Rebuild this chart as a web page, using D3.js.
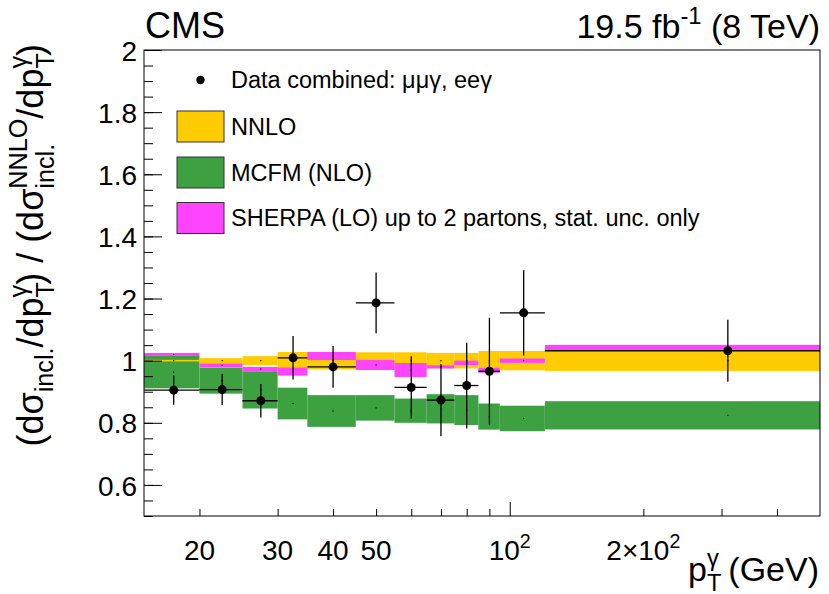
<!DOCTYPE html>
<html>
<head>
<meta charset="utf-8">
<script src="https://cdn.jsdelivr.net/npm/d3@7/dist/d3.min.js"></script>
<style>
  body { margin: 0; background: #fff; }
  text { font-family: "Liberation Sans", Arial, Helvetica, sans-serif; fill: #000; }
</style>
</head>
<body>
<div id="chart"></div>
<script>
// bin edges of photon pT (GeV)
var binEdges = [15, 20, 25, 30, 35, 45, 55, 65, 75, 85, 95, 120, 500];

// data / NNLO ratio and its error
var dataVal = [0.905, 0.907, 0.871, 1.009, 0.980, 1.186, 0.914, 0.873, 0.920, 0.966, 1.154, 1.032];
var dataErr = [0.047, 0.050, 0.054, 0.070, 0.067, 0.098, 0.100, 0.116, 0.138, 0.172, 0.137, 0.100];

// NNLO / NNLO band (centered at 1)
var nnloUnc = [0.0025, 0.008, 0.0145, 0.028, 0.028, 0.027, 0.027, 0.025, 0.025, 0.031, 0.031, 0.033];

// MCFM (NLO) / NNLO
var mcfmVal = [0.963, 0.936, 0.906, 0.862, 0.838, 0.848, 0.839, 0.845, 0.841, 0.820, 0.814, 0.824];
var mcfmUnc = [0.052, 0.042, 0.060, 0.051, 0.051, 0.041, 0.039, 0.047, 0.048, 0.042, 0.041, 0.0455];

// SHERPA (LO) / NNLO
var sherpaVal = [1.020, 0.985, 0.973, 0.965, 1.015, 0.986, 0.970, 0.980, 0.993, 0.969, 1.000, 1.042];
var sherpaUnc = [0.005, 0.0065, 0.007, 0.013, 0.013, 0.016, 0.0225, 0.005, 0.007, 0.008, 0.007, 0.009];

// axis ticks
var yMajorTicks = [0.6, 0.8, 1.0, 1.2, 1.4, 1.6, 1.8, 2.0];
var yMinorTicks = d3.range(0.5, 2.001, 0.05);
var xMinorTicks = [20, 30, 40, 50, 60, 70, 80, 90, 200, 300, 400];
var xMajorTicks = [100];
var xLabelVals = [20, 30, 40, 50, 100, 200];
var xLabelText = [["20"], ["30"], ["40"], ["50"], ["10", "2"], ["2\u00d710", "2"]];

var legendItems = ["Data combined: \u03bc\u03bc\u03b3, ee\u03b3", "NNLO", "MCFM (NLO)",
                   "SHERPA (LO) up to 2 partons, stat. unc. only"];

var colNNLO = "#ffcc00", colMCFM = "#3da142", colSherpa = "#ff44ff";

var W = 829, H = 594;
var frame = {left: 144, right: 820, top: 50, bottom: 516};

var svg = d3.select("#chart").append("svg")
  .attr("width", W)
  .attr("height", H);
svg.append("rect").attr("width", W).attr("height", H).attr("fill", "#fff");

var x = d3.scaleLog().domain([15, 500]).range([frame.left, frame.right]);
var y = d3.scaleLinear().domain([0.5, 2]).range([frame.bottom, frame.top]);

// bins table built from the arrays
var bins = d3.range(dataVal.length).map(function(i) {
  return {
    lo: binEdges[i], hi: binEdges[i + 1],
    mid: (binEdges[i] + binEdges[i + 1]) / 2,
    d: dataVal[i], de: dataErr[i],
    nu: nnloUnc[i],
    m: mcfmVal[i], mu: mcfmUnc[i],
    s: sherpaVal[i], su: sherpaUnc[i]
  };
});

var plot = svg.append("g");

function band(cls, col, val, unc) {
  plot.selectAll("." + cls).data(bins).enter().append("rect")
    .attr("class", cls)
    .attr("x", function(d) { return x(d.lo); })
    .attr("width", function(d) { return x(d.hi) - x(d.lo); })
    .attr("y", function(d) { return y(val(d) + unc(d)); })
    .attr("height", function(d) { return y(val(d) - unc(d)) - y(val(d) + unc(d)); })
    .attr("fill", col);
  // tiny central markers
  plot.selectAll("." + cls + "dot").data(bins).enter().append("rect")
    .attr("class", cls + "dot")
    .attr("x", function(d) { return x(d.mid) - 0.6; })
    .attr("y", function(d) { return y(val(d)) - 0.6; })
    .attr("width", 1.2).attr("height", 1.2)
    .attr("fill", "#000");
}

band("mcfm", colMCFM, function(d) { return d.m; }, function(d) { return d.mu; });
band("nnlo", colNNLO, function(d) { return 1; }, function(d) { return d.nu; });
band("sherpa", colSherpa, function(d) { return d.s; }, function(d) { return d.su; });

// data points with error bars
var pts = plot.selectAll(".pt").data(bins).enter().append("g").attr("class", "pt");
pts.append("line")
  .attr("x1", function(d) { return x(d.lo); })
  .attr("x2", function(d) { return x(d.hi); })
  .attr("y1", function(d) { return y(d.d); })
  .attr("y2", function(d) { return y(d.d); })
  .attr("stroke", "#000").attr("stroke-width", 1.3);
pts.append("line")
  .attr("x1", function(d) { return x(d.mid); })
  .attr("x2", function(d) { return x(d.mid); })
  .attr("y1", function(d) { return y(d.d + d.de); })
  .attr("y2", function(d) { return y(d.d - d.de); })
  .attr("stroke", "#000").attr("stroke-width", 1.3);
pts.append("circle")
  .attr("cx", function(d) { return x(d.mid); })
  .attr("cy", function(d) { return y(d.d); })
  .attr("r", 4.5)
  .attr("fill", "#000");

// frame
svg.append("rect")
  .attr("x", frame.left).attr("y", frame.top)
  .attr("width", frame.right - frame.left).attr("height", frame.bottom - frame.top)
  .attr("fill", "none").attr("stroke", "#000").attr("stroke-width", 1);

// y axis
var yMinorAxis = d3.axisLeft(y).tickValues(yMinorTicks).tickSize(-9).tickFormat("");
var yMajorAxis = d3.axisLeft(y).tickValues(yMajorTicks).tickSize(-18).tickPadding(7)
  .tickFormat(function(d) { return String(+d.toFixed(1)); });
var gy1 = svg.append("g").attr("transform", "translate(" + frame.left + ",0)").call(yMinorAxis);
var gy2 = svg.append("g").attr("transform", "translate(" + frame.left + ",0)").call(yMajorAxis);
[gy1, gy2].forEach(function(g) {
  g.select(".domain").remove();
  g.selectAll("line").attr("stroke", "#000");
});
gy2.selectAll("text")
  .attr("font-size", 28)
  .attr("font-family", "'Liberation Sans', Arial, sans-serif")
  .attr("dy", "0.36em");

// x axis
var xMinorAxis = d3.axisBottom(x).tickValues(xMinorTicks).tickSize(-7).tickFormat("");
var xMajorAxis = d3.axisBottom(x).tickValues(xMajorTicks).tickSize(-14).tickFormat("");
var gx1 = svg.append("g").attr("transform", "translate(0," + frame.bottom + ")").call(xMinorAxis);
var gx2 = svg.append("g").attr("transform", "translate(0," + frame.bottom + ")").call(xMajorAxis);
[gx1, gx2].forEach(function(g) {
  g.select(".domain").remove();
  g.selectAll("line").attr("stroke", "#000");
});

// rich text helper: parts = [text] | [text, "sup"] | [text, "sub"] | [[sub, sup], "stack"]
function rich(t, parts, size) {
  var off = 0;
  function shift(to) { var dy = to - off; off = to; return dy; }
  parts.forEach(function(p) {
    var mode = p[1] || "n";
    if (mode === "n") {
      t.append("tspan").attr("dy", shift(0)).attr("font-size", size).text(p[0]);
    } else if (mode === "sup") {
      t.append("tspan").attr("dy", shift(-0.42 * size)).attr("font-size", size * 0.7).text(p[0]);
    } else if (mode === "sub") {
      t.append("tspan").attr("dy", shift(0.28 * size)).attr("font-size", size * 0.7).text(p[0]);
    } else if (mode === "stack") {
      var sb = t.append("tspan").attr("dy", shift(0.3 * size)).attr("font-size", size * 0.7).text(p[0][0]);
      var lb = sb.node().getComputedTextLength();
      var sp = t.append("tspan").attr("dx", -lb).attr("dy", shift(-0.45 * size))
        .attr("font-size", size * 0.7).text(p[0][1]);
      var lp = sp.node().getComputedTextLength();
      if (lb > lp) {
        t.append("tspan").attr("dx", lb - lp).attr("font-size", size * 0.7).text("");
      }
    }
  });
  // back to baseline
  if (off !== 0) t.append("tspan").attr("dy", shift(0)).text("");
  return t;
}

// x tick labels
xLabelVals.forEach(function(v, i) {
  var t = svg.append("text")
    .attr("x", x(v)).attr("y", frame.bottom + 44)
    .attr("text-anchor", "middle");
  var parts = [[xLabelText[i][0]]];
  if (xLabelText[i].length > 1) parts.push([xLabelText[i][1], "sup"]);
  rich(t, parts, 28);
});

// x title
rich(svg.append("text").attr("x", frame.right - 1).attr("y", 581).attr("text-anchor", "end"),
  [["p"], [["T", "\u03b3"], "stack"], [" (GeV)"]], 34);

// y title
rich(svg.append("text")
    .attr("transform", "translate(43,44) rotate(-90)")
    .attr("text-anchor", "end"),
  [["(d\u03c3"], ["incl.", "sub"], ["/dp"], [["T", "\u03b3"], "stack"], [") / (d\u03c3"],
   [["incl.", "NNLO"], "stack"], ["/dp"], [["T", "\u03b3"], "stack"], [")"]], 36);

// top labels
svg.append("text").attr("x", frame.left + 1).attr("y", 38).attr("font-size", 36).text("CMS");
rich(svg.append("text").attr("x", frame.right).attr("y", 38).attr("text-anchor", "end"),
  [["19.5 fb"], ["-1", "sup"], [" (8 TeV)"]], 34);

// legend
var leg = svg.append("g");
var legX = 177, legW = 47, legH = 31, legTextX = 231;
var legY = [80, 126.5, 172.5, 218];
var legCols = [null, colNNLO, colMCFM, colSherpa];
legendItems.forEach(function(name, i) {
  if (i === 0) {
    leg.append("circle").attr("cx", legX + legW / 2).attr("cy", legY[i]).attr("r", 4.2).attr("fill", "#000");
  } else {
    leg.append("rect")
      .attr("x", legX).attr("y", legY[i] - legH / 2)
      .attr("width", legW).attr("height", legH)
      .attr("fill", legCols[i]).attr("stroke", "#333").attr("stroke-width", 1);
  }
  leg.append("text")
    .attr("x", legTextX).attr("y", legY[i]).attr("dy", "0.35em")
    .attr("font-size", 23.5).text(name);
});
</script>
</body>
</html>
